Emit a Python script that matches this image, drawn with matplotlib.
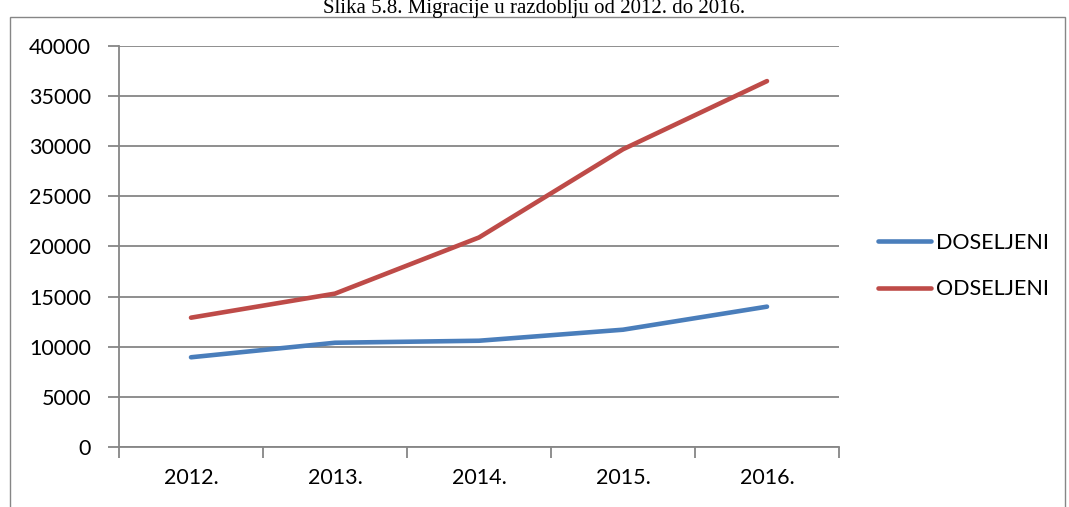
import matplotlib
matplotlib.use("Agg")
import matplotlib.pyplot as plt
from matplotlib.patches import Rectangle
from matplotlib.lines import Line2D

years = ["2012.", "2013.", "2014.", "2015.", "2016."]
doseljeni = [8950, 10400, 10600, 11700, 14000]
odseljeni = [12900, 15300, 20900, 29700, 36500]
series_names = ["DOSELJENI", "ODSELJENI"]
colors = ["#4A7EBB", "#BE4B48"]
yticks = [0, 5000, 10000, 15000, 20000, 25000, 30000, 35000, 40000]

W, H = 1069, 507
FS = 15.5
fig = plt.figure(figsize=(W / 100, H / 100), dpi=100)

# outer frame
fig.patches.append(Rectangle((10 / W, -0.05), 1055 / W, 1.05 - 17 / H,
                             transform=fig.transFigure, fill=False,
                             edgecolor="#868686", linewidth=1.0))

fig.text(0.5, 1 - 13.5 / H, "Slika 5.8. Migracije u razdoblju od 2012. do 2016.",
         ha="center", va="baseline", fontsize=15, family="Liberation Serif")

ax = fig.add_axes([119 / W, 1 - 447 / H, 720 / W, 401 / H])
x = list(range(len(years)))
ax.plot(x, doseljeni, color=colors[0], lw=3.3, solid_capstyle="round", label=series_names[0], zorder=3)
ax.plot(x, odseljeni, color=colors[1], lw=3.3, solid_capstyle="round", label=series_names[1], zorder=3)

ax.set_xlim(-0.5, len(years) - 0.5)
ax.set_ylim(0, 40000)
ax.set_yticks(yticks)
ax.set_yticklabels([str(v) for v in yticks], fontsize=FS, family="Lato")
ax.yaxis.grid(True, color="#868686", linewidth=1.3)
ax.set_axisbelow(True)

ax.set_xticks([i - 0.5 for i in range(len(years) + 1)])
ax.set_xticklabels([])
ax.set_xticks(x, minor=True)
ax.set_xticklabels(years, minor=True, fontsize=FS, family="Lato")
ax.tick_params(axis="x", which="minor", length=0, pad=15)
ax.tick_params(axis="x", which="major", length=8, width=1.3, color="#868686", direction="out")
ax.tick_params(axis="y", length=8, width=1.3, color="#868686", direction="out", pad=12)

for s in ["top", "right"]:
    ax.spines[s].set_visible(False)
for s in ["left", "bottom"]:
    ax.spines[s].set_color("#868686")
    ax.spines[s].set_linewidth(1.3)

handles = [Line2D([0], [0], color=c, lw=3.3, solid_capstyle="round") for c in colors]
fig.legend(handles, series_names, loc="center left", bbox_to_anchor=(872 / W, 1 - 266 / H),
           frameon=False, prop={"family": "Lato", "size": FS},
           handlelength=2.45, handletextpad=0.22, labelspacing=1.25,
           borderaxespad=0, borderpad=0.3)

fig.savefig("out.png", dpi=100)
